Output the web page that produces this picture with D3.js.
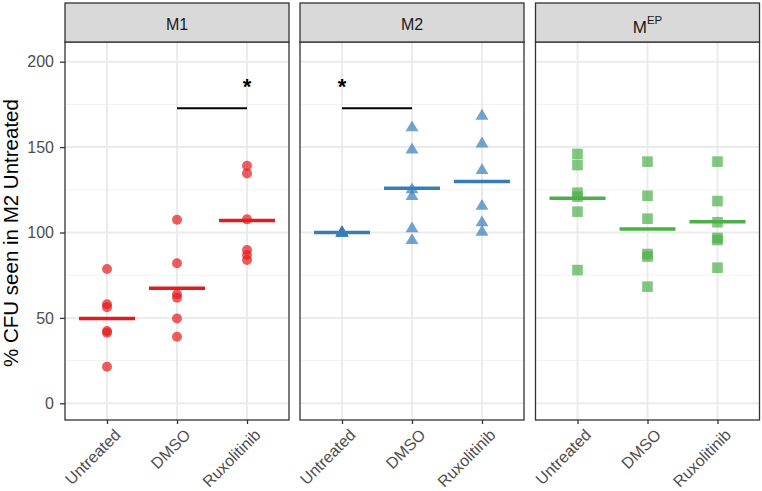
<!DOCTYPE html>
<html>
<head>
<meta charset="utf-8">
<script src="https://cdn.jsdelivr.net/npm/d3@7"></script>
<style>
  body { margin: 0; background: #fff; }
  svg { display: block; font-family: Arial, "Liberation Sans", sans-serif; }
</style>
</head>
<body>
<svg id="chart" width="762" height="491"></svg>
<script>
const panels = ["M1", "M2", "MEP"];
const categories = ["Untreated", "DMSO", "Ruxolitinib"];
const yTicks = [0, 50, 100, 150, 200];
const yMinor = [25, 75, 125, 175];
const colors = ["#E41A1C", "#377EB8", "#4DAF4A"];
const shapes = ["circle", "triangle", "square"];

const m1Values = [
  [78.6, 58.0, 56.3, 42.3, 41.3, 21.4],
  [107.5, 82.0, 63.8, 61.8, 49.7, 39.0],
  [139.1, 134.6, 107.7, 89.8, 86.8, 83.9]
];
const m2Values = [
  [100, 100, 100, 100, 100, 100],
  [161.6, 148.7, 125.3, 121.4, 102.5, 95.6],
  [168.4, 152.2, 136.6, 115.7, 106.0, 100.5]
];
const mepValues = [
  [146.0, 139.5, 123.3, 121.0, 112.2, 78.0],
  [141.5, 121.5, 108.1, 87.4, 85.9, 68.3],
  [141.5, 118.4, 106.0, 96.8, 95.6, 79.4]
];
const allValues = [m1Values, m2Values, mepValues];

// significance brackets: [panel index, from category, to category, y value, star at category]
const sigBars = [
  [0, "DMSO", "Ruxolitinib", 172.7, "Ruxolitinib"],
  [1, "Untreated", "DMSO", 172.7, "Untreated"]
];
const sigStarValue = 188;

const svg = d3.select("#chart");
const panelLefts = [65, 300, 535.5];
const panelW = 224;
const stripTop = 3, panelTop = 42, panelBottom = 420;
const font = "Arial, 'Liberation Sans', sans-serif";

const y = d3.scaleLinear().domain([0, 200]).range([403.3, 61.7]);

panels.forEach((name, pi) => {
  const left = panelLefts[pi];
  const x = d3.scalePoint().domain(categories).range([left + 0.6 * 70, left + panelW - 0.6 * 70]);
  const g = svg.append("g");

  g.append("rect").attr("x", left).attr("y", panelTop).attr("width", panelW).attr("height", panelBottom - panelTop).attr("fill", "#fff");

  g.selectAll(".minor").data(yMinor).enter().append("line")
    .attr("x1", left).attr("x2", left + panelW)
    .attr("y1", d => y(d)).attr("y2", d => y(d))
    .attr("stroke", "#F2F2F2").attr("stroke-width", 1);
  g.selectAll(".major").data(yTicks).enter().append("line")
    .attr("x1", left).attr("x2", left + panelW)
    .attr("y1", d => y(d)).attr("y2", d => y(d))
    .attr("stroke", "#EBEBEB").attr("stroke-width", 2);
  g.selectAll(".vmajor").data(categories).enter().append("line")
    .attr("x1", d => x(d)).attr("x2", d => x(d))
    .attr("y1", panelTop).attr("y2", panelBottom)
    .attr("stroke", "#EBEBEB").attr("stroke-width", 2);

  const vals = allValues[pi];
  const col = colors[pi];
  const shape = shapes[pi];

  categories.forEach((c, ci) => {
    vals[ci].forEach(v => {
      const cx = x(c), cy = y(v);
      if (shape === "circle") {
        g.append("circle").attr("cx", cx).attr("cy", cy).attr("r", 5).attr("fill", col).attr("fill-opacity", 0.7);
      } else if (shape === "triangle") {
        const s = 6.8;
        g.append("path")
          .attr("d", `M${cx},${cy - s} L${cx + s * 0.95},${cy + s * 0.6} L${cx - s * 0.95},${cy + s * 0.6} Z`)
          .attr("fill", col).attr("fill-opacity", 0.7);
      } else {
        g.append("rect").attr("x", cx - 5.3).attr("y", cy - 5.3).attr("width", 10.6).attr("height", 10.6)
          .attr("fill", col).attr("fill-opacity", 0.7);
      }
    });
    const m = d3.mean(vals[ci]);
    g.append("line").attr("x1", x(c) - 28).attr("x2", x(c) + 28)
      .attr("y1", y(m)).attr("y2", y(m))
      .attr("stroke", col).attr("stroke-width", 3.5);
  });

  sigBars.filter(s => s[0] === pi).forEach(s => {
    g.append("line").attr("x1", x(s[1])).attr("x2", x(s[2]))
      .attr("y1", y(s[3])).attr("y2", y(s[3]))
      .attr("stroke", "#000").attr("stroke-width", 2);
    g.append("text").attr("x", x(s[4])).attr("y", y(sigStarValue) + 12)
      .attr("text-anchor", "middle").attr("font-size", 22).attr("font-weight", "bold")
      .attr("fill", "#000").text("*");
  });

  g.append("rect").attr("x", left).attr("y", panelTop).attr("width", panelW).attr("height", panelBottom - panelTop)
    .attr("fill", "none").attr("stroke", "#333333").attr("stroke-width", 1.3);

  g.append("rect").attr("x", left).attr("y", stripTop).attr("width", panelW).attr("height", panelTop - stripTop)
    .attr("fill", "#D9D9D9").attr("stroke", "#333333").attr("stroke-width", 1.3);
  const st = g.append("text").attr("x", left + panelW / 2)
    .attr("text-anchor", "middle").attr("font-size", 16).attr("fill", "#1A1A1A");
  if (name === "MEP") {
    st.attr("y", 33);
    st.append("tspan").attr("font-size", 17).text("M");
    st.append("tspan").attr("font-size", 11.5).attr("dy", -9).text("EP");
  } else {
    st.attr("y", 30).text(name);
  }

  const xAxis = g.append("g").attr("transform", `translate(0,${panelBottom})`)
    .call(d3.axisBottom(x).tickSize(4).tickPadding(3));
  xAxis.select(".domain").remove();
  xAxis.selectAll(".tick line").attr("stroke", "#333333").attr("stroke-width", 1.3);
  xAxis.selectAll(".tick text")
    .attr("font-size", 16).attr("fill", "#4D4D4D").attr("font-family", font)
    .attr("text-anchor", "end").attr("x", 0).attr("y", 0).attr("dy", 0)
    .attr("transform", "translate(14,16) rotate(-45)");
});

const yAxis = svg.append("g").attr("transform", `translate(${panelLefts[0]},0)`)
  .call(d3.axisLeft(y).tickValues(yTicks).tickSize(5).tickPadding(6));
yAxis.select(".domain").remove();
yAxis.selectAll(".tick line").attr("stroke", "#333333").attr("stroke-width", 1.3);
yAxis.selectAll(".tick text").attr("font-size", 16).attr("fill", "#4D4D4D").attr("font-family", font);

svg.append("text")
  .attr("transform", `translate(18,${(panelTop + panelBottom) / 2 + 2}) rotate(-90)`)
  .attr("text-anchor", "middle").attr("font-size", 20.5).attr("fill", "#000")
  .text("% CFU seen in M2 Untreated");
</script>
</body>
</html>
